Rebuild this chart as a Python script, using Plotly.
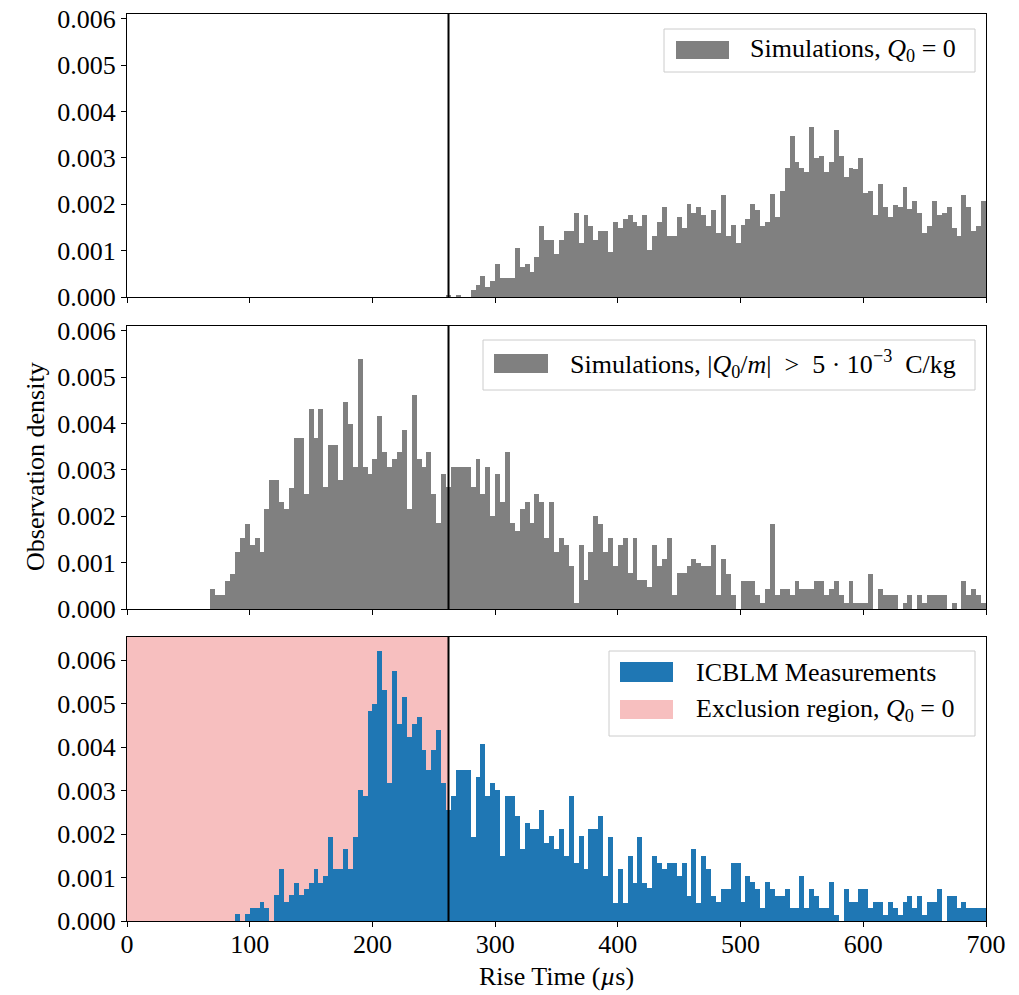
import plotly.graph_objects as go

# ---------------- data (densities in units of 1e-3 per microsecond) ----------------
BIN_WIDTH_US = 4
bin_starts_us = list(range(0, 700, BIN_WIDTH_US))   # 175 bins, 0..700 us
cut_us = 262                                         # exclusion limit (vertical line)
x_ticks = [0, 100, 200, 300, 400, 500, 600, 700]
y_ticks = [0.000, 0.001, 0.002, 0.003, 0.004, 0.005, 0.006]

sim_q0_milli = [
    0, 0, 0, 0, 0, 0, 0, 0, 0, 0,
    0, 0, 0, 0, 0, 0, 0, 0, 0, 0,
    0, 0, 0, 0, 0, 0, 0, 0, 0, 0,
    0, 0, 0, 0, 0, 0, 0, 0, 0, 0,
    0, 0, 0, 0, 0, 0, 0, 0, 0, 0,
    0, 0, 0, 0, 0, 0, 0, 0, 0, 0,
    0, 0, 0, 0, 0, 0.04, 0, 0.04, 0, 0,
    0.15, 0.26, 0.45, 0.21, 0.34, 0.71, 0.40, 0.40, 0.40, 1.05,
    0.65, 0.71, 0.54, 0.87, 1.53, 1.22, 1.22, 0.92, 1.22, 1.42,
    1.42, 1.82, 1.17, 1.76, 1.53, 1.22, 1.42, 1.42, 0.97, 1.62,
    1.48, 1.68, 1.76, 1.62, 1.53, 1.76, 1.02, 1.31, 1.62, 1.93,
    1.31, 1.31, 1.73, 1.48, 2.01, 1.82, 1.93, 1.76, 1.53, 1.87,
    1.37, 2.19, 1.32, 1.56, 1.17, 1.56, 1.68, 2.01, 1.87, 1.53,
    1.62, 2.23, 1.73, 2.28, 2.79, 3.46, 2.90, 2.79, 2.70, 3.66,
    2.99, 3.04, 2.70, 2.90, 3.61, 3.04, 2.59, 2.79, 2.75, 2.99,
    2.24, 2.28, 1.76, 2.44, 1.93, 1.73, 1.99, 1.93, 2.38, 1.89,
    2.07, 1.82, 1.37, 1.53, 2.07, 1.76, 1.82, 1.93, 1.48, 1.32,
    2.19, 1.93, 1.42, 1.53, 2.08,
]

sim_charged_milli = [
    0, 0, 0, 0, 0, 0, 0, 0, 0, 0,
    0, 0, 0, 0, 0, 0, 0, 0.44, 0.30, 0.30,
    0.61, 0.75, 1.23, 1.54, 1.84, 1.38, 1.54, 1.23, 2.15, 2.77,
    2.77, 2.31, 2.15, 2.61, 3.69, 3.69, 2.47, 4.31, 3.69, 4.31,
    2.62, 3.54, 3.54, 2.77, 4.46, 3.99, 3.07, 5.39, 3.07, 2.92,
    3.23, 4.16, 3.38, 3.07, 3.23, 3.38, 3.85, 2.15, 4.62, 3.23,
    3.07, 3.38, 2.47, 1.86, 2.92, 2.62, 3.07, 3.07, 3.07, 3.07,
    2.62, 3.23, 2.47, 3.07, 2.01, 2.92, 2.31, 3.38, 1.86, 1.68,
    2.15, 2.31, 1.86, 2.47, 2.31, 1.54, 2.31, 1.23, 1.54, 1.38,
    0.92, 0.14, 1.38, 0.62, 1.23, 2.00, 1.84, 1.23, 1.54, 0.92,
    1.38, 1.54, 0.77, 1.54, 0.62, 0.62, 0.47, 1.38, 0.92, 1.08,
    1.54, 0.30, 0.77, 0.77, 0.92, 1.08, 1.00, 0.92, 0.92, 1.38,
    0.30, 1.07, 0.75, 0.30, 0, 0.61, 0.61, 0.61, 0.30, 0.14,
    0.44, 1.84, 0.30, 0.44, 0.44, 0.30, 0.61, 0.44, 0.44, 0.44,
    0.61, 0.61, 0.30, 0.44, 0.61, 0.30, 0.14, 0.61, 0.14, 0.14,
    0.14, 0.75, 0, 0.44, 0.30, 0.30, 0.30, 0, 0.14, 0.30,
    0, 0.30, 0.14, 0.30, 0.30, 0.30, 0.30, 0, 0.14, 0,
    0.61, 0.30, 0.44, 0.30, 0.14,
]

icblm_milli = [
    0, 0, 0, 0, 0, 0, 0, 0, 0, 0,
    0, 0, 0, 0, 0, 0, 0, 0, 0, 0,
    0, 0, 0.15, 0, 0.15, 0.29, 0.29, 0.44, 0.29, 0,
    0.59, 1.19, 0.44, 0.59, 0.88, 0.59, 0.74, 0.88, 1.19, 0.88,
    1.03, 1.94, 1.19, 1.19, 1.65, 1.19, 1.94, 3.01, 2.87, 4.83,
    4.99, 6.21, 5.30, 3.18, 5.75, 4.54, 5.14, 4.24, 4.54, 4.70,
    3.93, 3.47, 3.93, 4.39, 3.18, 2.55, 2.87, 3.47, 3.47, 3.47,
    1.94, 3.32, 4.07, 2.87, 3.17, 3.01, 1.49, 2.87, 2.87, 2.41,
    1.65, 2.26, 2.11, 2.11, 2.55, 1.80, 1.95, 1.65, 2.11, 1.49,
    2.87, 1.34, 1.95, 1.19, 2.11, 2.11, 2.41, 1.03, 1.94, 0.42,
    1.19, 0.42, 1.49, 0.88, 1.94, 0.88, 0.75, 1.49, 1.34, 1.19,
    1.34, 1.34, 1.03, 1.34, 0.57, 1.65, 0.42, 1.49, 1.19, 0.58,
    0.43, 0.74, 0.74, 1.34, 1.34, 0.43, 1.03, 0.90, 0.74, 0.29,
    0.90, 0.74, 0.58, 0.58, 0.74, 0.29, 0.29, 1.03, 0.29, 0.74,
    0.58, 0.29, 0.29, 0.90, 0.14, 0, 0.74, 0.43, 0.43, 0.74,
    0.74, 0.29, 0.43, 0.43, 0.14, 0.43, 0.29, 0.14, 0.43, 0.58,
    0.29, 0.58, 0.14, 0.43, 0.43, 0.74, 0, 0.58, 0.58, 0.29,
    0.43, 0.29, 0.29, 0.29, 0.29,
]

legend_q0 = "Simulations, <i>Q</i><sub>0</sub> = 0"
legend_charged = "Simulations, |<i>Q</i><sub>0</sub>/<i>m</i>|  >  5 · 10<sup>−3</sup>  C/kg"
legend_icblm = "ICBLM Measurements"
legend_excl = "Exclusion region, <i>Q</i><sub>0</sub> = 0"
x_title = "Rise Time (<i>µ</i>s)"
y_title = "Observation density"

# ---------------- styling / layout ----------------
W, H = 1019, 995
# plot area in page pixels: x 127..986, y 14..921
ML, MR, MT, MB = 127, W - 986, 14, H - 921
PW, PH = W - ML - MR, H - MT - MB
FONT = "Liberation Serif, Times New Roman, serif"
FS = 26
GRAY = "#808080"
BLUE = "#1f77b4"
PINK = "rgba(240,128,128,0.5)"


def px_x(px):
    # page pixel -> paper fraction
    return (px - ML) / PW


def px_y(py):
    return (H - MB - py) / PH


def milli(vals):
    return [v * 1e-3 for v in vals]


fig = go.Figure()
fig.add_trace(go.Bar(x=bin_starts_us, y=milli(sim_q0_milli), width=BIN_WIDTH_US, offset=0,
                     marker=dict(color=GRAY, line=dict(width=0)), xaxis="x", yaxis="y",
                     name="Simulations, Q0 = 0", showlegend=False))
fig.add_trace(go.Bar(x=bin_starts_us, y=milli(sim_charged_milli), width=BIN_WIDTH_US, offset=0,
                     marker=dict(color=GRAY, line=dict(width=0)), xaxis="x2", yaxis="y2",
                     name="Simulations, charged", showlegend=False))
fig.add_trace(go.Bar(x=bin_starts_us, y=milli(icblm_milli), width=BIN_WIDTH_US, offset=0,
                     marker=dict(color=BLUE, line=dict(width=0)), xaxis="x3", yaxis="y3",
                     name="ICBLM Measurements", showlegend=False))

axis_common = dict(showline=True, mirror=True, linecolor="black", linewidth=1.3,
                   ticks="outside", ticklen=5, tickwidth=1.2, tickcolor="black",
                   showgrid=False, zeroline=False, ticklabeloverflow="allow",
                   tickfont=dict(family=FONT, size=FS, color="black"))

dom_top = [px_y(297), px_y(14)]
dom_mid = [px_y(609), px_y(326)]
dom_bot = [0, px_y(637)]

xcommon = dict(axis_common, range=[0, 700], tickvals=x_ticks, domain=[0, 1])
fig.update_layout(
    xaxis=dict(xcommon, anchor="y", showticklabels=False),
    xaxis2=dict(xcommon, anchor="y2", showticklabels=False),
    xaxis3=dict(xcommon, anchor="y3", ticklabelstandoff=-5),
    yaxis=dict(axis_common, domain=dom_top, range=[0, 0.0061], tickvals=y_ticks, tickformat=".3f", anchor="x"),
    yaxis2=dict(axis_common, domain=dom_mid, range=[0, 0.0061], tickvals=y_ticks, tickformat=".3f", anchor="x2"),
    yaxis3=dict(axis_common, domain=dom_bot, range=[0, 0.00653], tickvals=y_ticks, tickformat=".3f", anchor="x3"),
)

shapes = []
# exclusion region (below bars)
shapes.append(dict(type="rect", xref="x3", yref="y3 domain", x0=0, x1=cut_us, y0=0, y1=1,
                   fillcolor=PINK, line=dict(width=0), layer="below"))
# vertical cut lines
for xr, yr in [("x", "y domain"), ("x2", "y2 domain"), ("x3", "y3 domain")]:
    shapes.append(dict(type="line", xref=xr, yref=yr, x0=cut_us, x1=cut_us, y0=0, y1=1,
                       line=dict(color="black", width=2), layer="above"))

annotations = []


def legend_box(x0, x1, y0, y1):
    shapes.append(dict(type="rect", xref="paper", yref="paper",
                       x0=px_x(x0), x1=px_x(x1), y0=px_y(y1), y1=px_y(y0),
                       fillcolor="rgba(255,255,255,0.8)", line=dict(color="#cccccc", width=1),
                       layer="above"))


def legend_entry(sx0, sx1, sy0, sy1, color, text, tx):
    shapes.append(dict(type="rect", xref="paper", yref="paper",
                       x0=px_x(sx0), x1=px_x(sx1), y0=px_y(sy1), y1=px_y(sy0),
                       fillcolor=color, line=dict(width=0), layer="above"))
    annotations.append(dict(xref="paper", yref="paper", x=px_x(tx), y=px_y((sy0 + sy1) / 2),
                            xanchor="left", yanchor="middle", showarrow=False, text=text,
                            font=dict(family=FONT, size=FS, color="black")))


legend_box(664, 975, 29, 72)
legend_entry(676, 729, 41, 59, GRAY, legend_q0, 748)

legend_box(483, 975, 340, 390)
legend_entry(494, 548, 354, 373, GRAY, legend_charged, 568)

legend_box(609, 975, 651, 736)
legend_entry(620, 673, 662, 682, BLUE, legend_icblm, 694)
legend_entry(620, 673, 700, 719, PINK, legend_excl, 694)

# axis titles
annotations.append(dict(xref="paper", yref="paper", x=px_x(35), y=px_y(467), xanchor="center",
                        yanchor="middle", textangle=-90, showarrow=False, text=y_title,
                        font=dict(family=FONT, size=FS, color="black")))
annotations.append(dict(xref="paper", yref="paper", x=0.5, y=px_y(976), xanchor="center",
                        yanchor="middle", showarrow=False, text=x_title,
                        font=dict(family=FONT, size=FS, color="black")))

fig.update_layout(
    shapes=shapes, annotations=annotations,
    width=W, height=H, margin=dict(l=ML, r=MR, t=MT, b=MB, autoexpand=False),
    paper_bgcolor="white", plot_bgcolor="white", bargap=0, showlegend=False,
    font=dict(family=FONT, size=FS, color="black"),
)

# remove the default 8px page margin so the figure fills the 1019x995 window exactly
fig.write_html("out.html", config={"displayModeBar": False},
               post_script="document.body.style.margin='0px';")
